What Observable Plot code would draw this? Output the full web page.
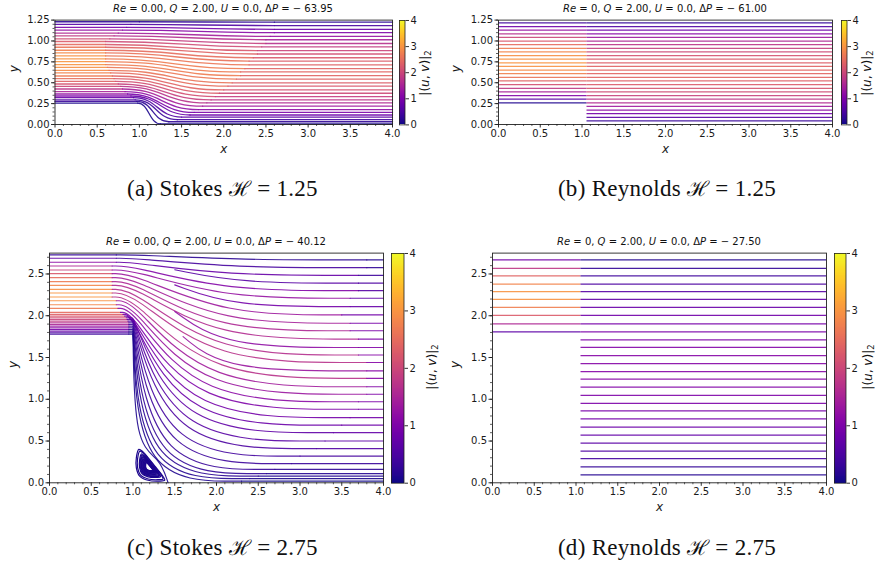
<!DOCTYPE html>
<html><head><meta charset="utf-8">
<script src="https://cdn.jsdelivr.net/npm/d3@7"></script>
<script src="https://cdn.jsdelivr.net/npm/@observablehq/plot@0.6"></script>
<style>
body{margin:0;background:#fff;}
#root{position:relative;width:875px;height:563px;overflow:hidden;background:#fff;font-family:"DejaVu Sans",sans-serif;color:#111;}
#root svg{position:absolute;display:block;}
.title{position:absolute;transform:translate(-50%,-50%);white-space:nowrap;font-size:10px;line-height:1;}
.cblab{position:absolute;transform:translate(-50%,-50%) rotate(-90deg);white-space:nowrap;font-size:12px;line-height:1;}
.cblab sub{font-size:8.5px;vertical-align:-2px;}
.cap{position:absolute;transform:translate(-50%,-50%);white-space:nowrap;font-family:"Liberation Serif","DejaVu Serif",serif;font-size:23px;line-height:1;letter-spacing:0.3px;}
.cap .H{font-family:"DejaVu Serif",serif;font-style:normal;font-size:21px;}
</style></head>
<body><div id="root"></div>
<script>
// ---------- shared tick values ----------
const X_TICKS = [0, 0.5, 1, 1.5, 2, 2.5, 3, 3.5, 4];
const Y_TICKS_A = [0, 0.25, 0.5, 0.75, 1, 1.25];
const Y_TICKS_C = [0, 0.5, 1, 1.5, 2, 2.5];
const CB_TICKS = [0, 1, 2, 3, 4];

// ---------- (a) Stokes H = 1.25 : streamlines (inlet y, outlet y, bend start/end x, speeds) ----------
const A_IN_Y  = [1.23,1.198,1.162,1.13,1.094,1.062,1.026,0.994,0.958,0.925,0.889,0.857,0.821,0.785,0.753,0.717,0.685,0.649,0.617,0.581,0.549,0.517,0.485,0.457,0.425,0.393,0.365,0.341,0.321,0.296,0.276,0.256];
const A_OUT_Y = [1.225,1.185,1.14,1.10,1.055,1.015,0.97,0.93,0.885,0.844,0.799,0.759,0.714,0.669,0.629,0.584,0.544,0.499,0.459,0.414,0.374,0.334,0.294,0.259,0.219,0.179,0.144,0.114,0.089,0.058,0.033,0.008];
const A_XA    = [1.0,0.9,0.85,0.8,0.75,0.7,0.65,0.6,0.6,0.6,0.6,0.6,0.6,0.6,0.6,0.6,0.62,0.64,0.66,0.68,0.7,0.72,0.75,0.78,0.8,0.83,0.86,0.9,0.93,0.95,0.97,0.98];
const A_XB    = [2.6,2.6,2.6,2.6,2.55,2.5,2.5,2.45,2.4,2.4,2.35,2.3,2.3,2.25,2.2,2.2,2.15,2.1,2.05,2.0,1.95,1.9,1.85,1.8,1.75,1.7,1.65,1.6,1.5,1.45,1.35,1.25];
const A_S_IN  = [0.24,0.59,0.96,1.27,1.58,1.83,2.09,2.29,2.48,2.63,2.77,2.86,2.94,2.99,3.0,2.99,2.95,2.88,2.79,2.66,2.52,2.35,2.16,1.97,1.73,1.47,1.22,0.99,0.79,0.53,0.30,0.07];
const A_S_MID = [0.22,0.53,0.86,1.14,1.42,1.65,1.88,2.06,2.23,2.37,2.49,2.57,2.64,2.69,2.7,2.69,2.65,2.59,2.51,2.39,2.27,2.1,1.9,1.7,1.45,1.2,0.95,0.75,0.55,0.35,0.2,0.08];
const A_S_OUT = [0.19,0.47,0.77,1.02,1.26,1.46,1.67,1.83,1.98,2.10,2.22,2.29,2.35,2.39,2.4,2.39,2.36,2.30,2.23,2.13,2.02,1.88,1.73,1.58,1.38,1.18,0.98,0.79,0.63,0.42,0.24,0.06];

// ---------- (b) Reynolds H = 1.25 : horizontal streamlines ----------
const B_STEP_X = 1.06;
const B_Y     = [1.217,1.173,1.13,1.086,1.043,0.999,0.956,0.912,0.869,0.825,0.782,0.738,0.695,0.651,0.608,0.564,0.521,0.477,0.434,0.39,0.347,0.303,0.26,0.216,0.173,0.129,0.086,0.042];
const B_S_IN  = [0.38,0.85,1.27,1.65,1.97,2.26,2.49,2.69,2.83,2.93,2.99,3.0,2.96,2.88,2.76,2.58,2.37,2.11,1.80,1.44,1.05,0.60,0.12];
const B_S_OUT = [0.25,0.56,0.83,1.09,1.33,1.54,1.73,1.89,2.03,2.15,2.25,2.32,2.37,2.40,2.40,2.38,2.33,2.27,2.18,2.06,1.93,1.76,1.58,1.37,1.15,0.89,0.62,0.31];

// ---------- (c) Stokes H = 2.75 : streamlines (control polygon per line) ----------
const C_IN_Y  = [2.728,2.688,2.64,2.596,2.548,2.504,2.456,2.408,2.364,2.316,2.272,2.224,2.18,2.132,2.088,2.04,2.016,1.996,1.976,1.956,1.936,1.916,1.896,1.876,1.856,1.836,1.816,1.796];
const C_OUT_Y = [2.668,2.576,2.484,2.30,2.21,2.01,1.91,1.82,1.72,1.53,1.44,1.25,1.15,1.06,0.97,0.88,0.78,0.69,0.60,0.50,0.41,0.32,0.23,0.16,0.11,0.08,0.05,0.02];
const C_XA    = [0.8,0.8,0.8,0.75,0.75,0.75,0.75,0.75,0.75,0.75,0.75,0.75,0.8,0.8,0.82,0.85,0.88,0.9,0.92,0.93,0.94,0.95,0.95,0.95,0.95,0.95,0.95,0.95];
const C_XK    = [1.1,1.05,1.0,1.0,1.0,1.0,1.0,1.0,1.0,1.0,1.0,1.0,1.0,1.0,1.0,1.0,1.0,1.0,1.0,1.0,1.0,1.0,1.0,1.0,1.0,1.0,1.0,1.0];
const C_X3    = [2.3,2.2,2.1,2.1,2.1,2.1,2.05,2.0,2.0,2.0,1.95,1.9,1.85,1.8,1.75,1.7,1.65,1.6,1.55,1.5,1.45,1.38,1.32,1.26,1.2,1.15,1.1,1.07];
const C_XB    = [3.8,3.8,3.7,3.7,3.6,3.5,3.6,3.6,3.7,3.7,3.8,3.8,3.8,3.8,3.7,3.7,3.6,3.5,3.4,3.3,3.2,3.0,2.9,2.7,2.6,2.5,2.4,2.3];
const C_SHARP = [0,0,0,0,0,0,0,0,0,0,0,0,0,0,0,0,0,0,1,1,1,1,1,1,1,1,1,1];
const C_S_IN  = [0.26,0.70,1.17,1.56,1.93,2.23,2.49,2.70,2.84,2.95,2.99,2.99,2.94,2.83,2.68,2.47,2.34,2.23,2.10,1.96,1.82,1.66,1.50,1.32,1.14,0.94,0.74,0.53];
const C_S_MID = [0.2,0.45,0.75,1.05,1.25,1.35,1.45,1.55,1.6,1.65,1.7,1.7,1.4,1.3,1.15,1.0,0.9,0.8,0.7,0.6,0.5,0.42,0.35,0.3,0.25,0.2,0.15,0.12];
const C_S_OUT = [0.13,0.26,0.38,0.60,0.69,0.86,0.93,0.98,1.02,1.08,1.09,1.08,1.06,1.03,1.00,0.95,0.89,0.82,0.74,0.65,0.55,0.45,0.33,0.24,0.17,0.12,0.08,0.03];
// streamlines that start inside the domain
const C_PART_XS = [1.5,1.5,1.5,1.6];
const C_PART_YS = [2.55,2.37,2.05,1.75];
const C_PART_X3 = [2.3,2.2,2.1,2.1];
const C_PART_Y1 = [2.39,2.11,1.62,1.34];
const C_PART_XB = [3.7,3.6,3.7,3.8];
const C_PART_S_MID = [0.6,0.9,1.2,1.3];
const C_PART_S_OUT = [0.50,0.78,1.06,1.09];
// dividing streamline down the step wall to reattachment
const C_SEP_X = [0.95,1.0,1.0,1.02,1.32,1.42];
const C_SEP_Y = [1.78,1.78,1.78,0.45,0.30,0.0];
const C_SEP_S_IN = 0.35, C_SEP_S_MID = 0.1;
// corner eddy
const VORTEX_X = [1.07,1.12,1.19,1.27,1.35,1.38,1.31,1.18,1.08,1.04,1.04];
const VORTEX_Y = [0.40,0.37,0.29,0.19,0.09,0.03,0.02,0.03,0.08,0.18,0.30];
const VORTEX_CENTER = [1.19, 0.19];
const VORTEX_SCALES = [1,0.9,0.74,0.68,0.63,0.58,0.53,0.48,0.44,0.40,0.36,0.32,0.28,0.25];
const VORTEX_S = 0.1;

// ---------- (d) Reynolds H = 2.75 ----------
const D_STEP_X = 1.06;
const D_Y     = [2.668,2.568,2.476,2.38,2.288,2.196,2.10,2.004,1.904,1.808,1.712,1.62,1.524,1.428,1.332,1.24,1.144,1.048,0.952,0.86,0.764,0.668,0.572,0.476,0.38,0.288,0.192,0.096];
const D_S_IN  = [0.90,1.79,2.39,2.80,2.98,2.97,2.73,2.27,1.56,0.66];
const D_S_OUT = [0.13,0.27,0.39,0.51,0.61,0.70,0.79,0.86,0.93,0.98,1.03,1.06,1.08,1.09,1.09,1.08,1.06,1.03,0.99,0.94,0.88,0.80,0.72,0.63,0.52,0.41,0.28,0.15];

// ---------- texts ----------
const TITLES = [
  {html:'<i>Re</i> = 0.00, <i>Q</i> = 2.00, <i>U</i> = 0.0, Δ<i>P</i> = − 63.95', x:223, y:8.5},
  {html:'<i>Re</i> = 0, <i>Q</i> = 2.00, <i>U</i> = 0.0, Δ<i>P</i> = − 61.00', x:665, y:8.5},
  {html:'<i>Re</i> = 0.00, <i>Q</i> = 2.00, <i>U</i> = 0.0, Δ<i>P</i> = − 40.12', x:216, y:242},
  {html:'<i>Re</i> = 0, <i>Q</i> = 2.00, <i>U</i> = 0.0, Δ<i>P</i> = − 27.50', x:659, y:242}
];
const CAPTIONS = [
  {label:"(a) Stokes", h:"1.25", x:222.5, y:188},
  {label:"(b) Reynolds", h:"1.25", x:667, y:188},
  {label:"(c) Stokes", h:"2.75", x:222.5, y:547},
  {label:"(d) Reynolds", h:"2.75", x:667, y:547}
];

const root = document.getElementById("root");
const COLOR = {type:"linear", scheme:"plasma", domain:[0,4]};
const STYLE = {fontFamily:"DejaVu Sans, sans-serif", fontSize:"10px", color:"#1a1a1a", background:"transparent", overflow:"visible"};
const X_MINOR = d3.range(0, 4.0001, 0.1).filter(v => Math.abs(v*2 - Math.round(v*2)) > 1e-6);
const LINE_W_A = 1.3, LINE_W = 1.15, LINE_OP = 0.9, RULE_W = 1.25, RULE_OP = 0.9;

function place(node, left, top) {
  node.style.left = left + "px";
  node.style.top = top + "px";
  root.appendChild(node);
}

function axes(yTicks, yMinor, yFmt, ylabDx) {
  return [
    Plot.frame({stroke:"#222", strokeWidth:0.9}),
    Plot.axisX(X_TICKS, {tickSize:3.5, tickPadding:2, tickFormat:d => d.toFixed(1), label:null, strokeWidth:0.9}),
    Plot.axisX(X_MINOR, {tickSize:2, tickFormat:() => "", label:null, strokeWidth:0.7}),
    Plot.axisY(yTicks, {tickSize:3.5, tickPadding:2, tickFormat:yFmt, label:null, strokeWidth:0.9}),
    Plot.axisY(yMinor, {tickSize:2, tickFormat:() => "", label:null, strokeWidth:0.7}),
    Plot.text(["x"], {frameAnchor:"bottom", dy:28, fontStyle:"italic", fontSize:12}),
    Plot.text(["y"], {frameAnchor:"left", dx:ylabDx, rotate:-90, fontStyle:"italic", fontSize:12})
  ];
}

function panel(cfg) {
  const svg = Plot.plot({
    width:cfg.width, height:cfg.height,
    marginLeft:cfg.ml, marginRight:cfg.mr, marginTop:cfg.mt, marginBottom:cfg.mb,
    x:{domain:[0,4]}, y:{domain:cfg.yDomain},
    color:COLOR, style:STYLE,
    marks:[...cfg.marks, ...axes(cfg.yTicks, cfg.yMinor, cfg.yFmt, cfg.ylabDx)]
  });
  place(svg, cfg.left, cfg.top);
}

function colorbar(left, top, w, h) {
  const pad = 8;
  const step = 4/256;
  const ramp = d3.range(0, 4, step);
  const svg = Plot.plot({
    width:w + 30, height:h + 2*pad,
    marginLeft:0, marginRight:30, marginTop:pad, marginBottom:pad,
    x:{domain:[0,1], axis:null}, y:{domain:[0,4]},
    color:COLOR, style:STYLE,
    marks:[
      Plot.rect(ramp, {x1:() => 0, x2:() => 1, y1:d => d, y2:d => Math.min(4, d + step*1.05), fill:d => d, shapeRendering:"crispEdges"}),
      Plot.frame({stroke:"#222", strokeWidth:0.8}),
      Plot.axisY(CB_TICKS, {anchor:"right", tickSize:3.5, tickPadding:2, label:null, tickFormat:d => String(d), strokeWidth:0.9})
    ]
  });
  place(svg, left, top - pad);
}

// ---------- build (a) ----------
function bumpRows(tag, y0s, y1s, xas, xbs, sIn, sMid, sOut) {
  const rows = [];
  y0s.forEach((y0, i) => {
    const y1 = y1s[i], id = tag + i;
    rows.push({id:id+"i", x:0, y:y0, s:sIn[i]}, {id:id+"i", x:xas[i], y:y0, s:sIn[i]});
    rows.push({id:id+"m", x:xas[i], y:y0, s:sMid[i]}, {id:id+"m", x:xbs[i], y:y1, s:sMid[i]});
    rows.push({id:id+"o", x:xbs[i], y:y1, s:sOut[i]}, {id:id+"o", x:4, y:y1, s:sOut[i]});
  });
  return rows;
}
const aRows = bumpRows("a", A_IN_Y, A_OUT_Y, A_XA, A_XB, A_S_IN, A_S_MID, A_S_OUT);

// ---------- build (b) ----------
const bRows = [];
B_S_IN.forEach((s, i) => bRows.push({y:B_Y[i], x1:0, x2:B_STEP_X, s}));
B_S_OUT.forEach((s, i) => bRows.push({y:B_Y[i], x1:B_STEP_X, x2:4, s}));

// ---------- build (c) ----------
const cRows = [];
C_IN_Y.forEach((y0, i) => {
  const y1 = C_OUT_Y[i], id = "c" + i;
  cRows.push({id:id+"i", x:0, y:y0, s:C_S_IN[i]}, {id:id+"i", x:C_XA[i], y:y0, s:C_S_IN[i]});
  const poly = [[C_XA[i], y0], [C_XK[i], y0]];
  if (C_SHARP[i]) poly.push([C_XK[i], y0]);
  poly.push([C_X3[i], y1], [C_XB[i], y1]);
  poly.forEach(([x, y]) => cRows.push({id:id+"m", x, y, s:C_S_MID[i]}));
  cRows.push({id:id+"o", x:C_XB[i], y:y1, s:C_S_OUT[i]}, {id:id+"o", x:4, y:y1, s:C_S_OUT[i]});
});
C_PART_XS.forEach((xs, i) => {
  const id = "p" + i, y1 = C_PART_Y1[i];
  [[xs, C_PART_YS[i]], [C_PART_X3[i], y1], [C_PART_XB[i], y1]].forEach(([x, y]) => cRows.push({id:id+"m", x, y, s:C_PART_S_MID[i]}));
  cRows.push({id:id+"o", x:C_PART_XB[i], y:y1, s:C_PART_S_OUT[i]}, {id:id+"o", x:4, y:y1, s:C_PART_S_OUT[i]});
});
cRows.push({id:"sepi", x:0, y:C_SEP_Y[0], s:C_SEP_S_IN}, {id:"sepi", x:C_SEP_X[0], y:C_SEP_Y[0], s:C_SEP_S_IN});
C_SEP_X.forEach((x, i) => cRows.push({id:"sepm", x, y:C_SEP_Y[i], s:C_SEP_S_MID}));
const vRows = [];
VORTEX_SCALES.forEach((k, j) => VORTEX_X.forEach((x, i) => vRows.push({
  loop:j, x:VORTEX_CENTER[0] + k*(x - VORTEX_CENTER[0]), y:VORTEX_CENTER[1] + k*(VORTEX_Y[i] - VORTEX_CENTER[1]), s:VORTEX_S
})));

// ---------- build (d) ----------
const dRows = [];
D_S_IN.forEach((s, i) => dRows.push({y:D_Y[i], x1:0, x2:D_STEP_X, s}));
D_S_OUT.forEach((s, i) => dRows.push({y:D_Y[i], x1:D_STEP_X, x2:4, s}));

const Y_MINOR_A = d3.range(0, 1.2501, 0.05);
const Y_MINOR_C = d3.range(0, 2.7501, 0.1);

panel({left:0, top:0, width:440, height:160, ml:54.5, mr:48, mt:19.6, mb:36,
  yDomain:[0,1.25], yTicks:Y_TICKS_A, yMinor:Y_MINOR_A, yFmt:d => d.toFixed(2), ylabDx:-41,
  marks:[Plot.line(aRows, {x:"x", y:"y", z:"id", stroke:"s", curve:"bump-x", strokeWidth:LINE_W_A, strokeOpacity:LINE_OP})]});
panel({left:440, top:0, width:435, height:160, ml:58, mr:43, mt:19.6, mb:36,
  yDomain:[0,1.25], yTicks:Y_TICKS_A, yMinor:Y_MINOR_A, yFmt:d => d.toFixed(2), ylabDx:-42,
  marks:[Plot.ruleY(bRows, {y:"y", x1:"x1", x2:"x2", stroke:"s", strokeWidth:RULE_W, strokeOpacity:RULE_OP})]});
panel({left:0, top:230, width:440, height:300, ml:49, mr:57, mt:22.6, mb:47.7,
  yDomain:[0,2.75], yTicks:Y_TICKS_C, yMinor:Y_MINOR_C, yFmt:d => d.toFixed(1), ylabDx:-36,
  marks:[
    Plot.line(cRows, {x:"x", y:"y", z:"id", stroke:"s", curve:"basis", strokeWidth:LINE_W, strokeOpacity:LINE_OP}),
    Plot.line(vRows, {x:"x", y:"y", z:"loop", stroke:"s", curve:"catmull-rom-closed", strokeWidth:1.2})
  ]});
panel({left:440, top:230, width:435, height:300, ml:52, mr:49, mt:22.6, mb:47.7,
  yDomain:[0,2.75], yTicks:Y_TICKS_C, yMinor:Y_MINOR_C, yFmt:d => d.toFixed(1), ylabDx:-37,
  marks:[Plot.ruleY(dRows, {y:"y", x1:"x1", x2:"x2", stroke:"s", strokeWidth:RULE_W, strokeOpacity:RULE_OP})]});

colorbar(399, 19.6, 5.5, 104.4);
colorbar(841, 19.6, 5.5, 104.4);
colorbar(391, 252.6, 12.5, 229.7);
colorbar(834, 252.6, 11.5, 229.7);

function addDiv(cls, html, x, y) {
  const d = document.createElement("div");
  d.className = cls; d.innerHTML = html;
  d.style.left = x + "px"; d.style.top = y + "px";
  root.appendChild(d);
}
TITLES.forEach(t => addDiv("title", t.html, t.x, t.y));
[[426,73],[868,73],[433,367],[869,367]].forEach(([x, y]) => addDiv("cblab", '|(<i>u</i>, <i>v</i>)|<sub>2</sub>', x, y));
CAPTIONS.forEach(c => addDiv("cap", c.label + ' <span class="H">ℋ</span> = ' + c.h, c.x, c.y));
</script></body></html>
